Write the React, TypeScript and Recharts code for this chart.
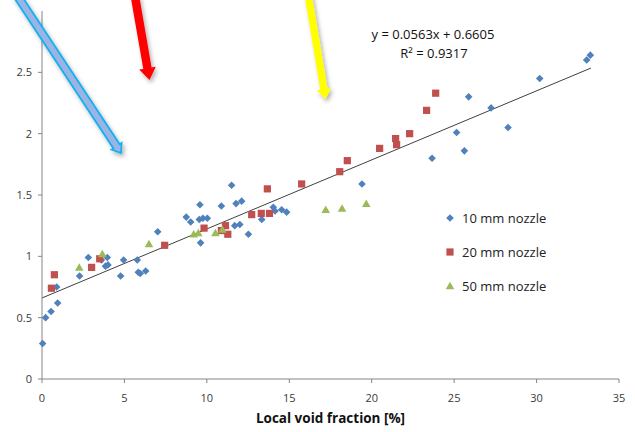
import React from 'react';
import { ScatterChart, Scatter, XAxis, YAxis, ReferenceLine, Legend } from 'recharts';

const xTicks = [0, 5, 10, 15, 20, 25, 30, 35];
const yTicks = [0, 0.5, 1, 1.5, 2, 2.5];

const nozzle10: [number, number][] = [
  [0.04, 0.29], [0.22, 0.5], [0.55, 0.55], [0.89, 0.75], [0.95, 0.62], [2.28, 0.84], [2.81, 0.99],
  [3.6, 0.97], [3.96, 0.99], [3.85, 0.92], [4.0, 0.93], [4.77, 0.84], [4.95, 0.97], [5.78, 0.97],
  [5.84, 0.87], [5.96, 0.86], [6.29, 0.88], [7.02, 1.2], [8.75, 1.32], [9.02, 1.28], [9.54, 1.3],
  [9.58, 1.42], [9.62, 1.11], [9.76, 1.31], [10.03, 1.31], [10.88, 1.41], [11.5, 1.58], [11.69, 1.25],
  [11.77, 1.43], [12.0, 1.26], [12.11, 1.45], [12.52, 1.18], [13.33, 1.3], [14.03, 1.4], [14.14, 1.37],
  [14.54, 1.38], [14.84, 1.36], [19.41, 1.59], [23.66, 1.8], [25.15, 2.01], [25.62, 1.86], [25.88, 2.3],
  [27.24, 2.21], [28.27, 2.05], [30.19, 2.45], [33.04, 2.6], [33.26, 2.64],
];

const nozzle20: [number, number][] = [
  [0.57, 0.74], [0.75, 0.85], [3.01, 0.91], [3.5, 0.98], [7.44, 1.09], [9.83, 1.23], [10.88, 1.21],
  [11.13, 1.25], [11.27, 1.18], [12.72, 1.34], [13.3, 1.35], [13.67, 1.55], [13.8, 1.35], [15.75, 1.59],
  [18.06, 1.69], [18.52, 1.78], [20.48, 1.88], [21.45, 1.96], [21.51, 1.91], [22.3, 2.0], [23.33, 2.19],
  [23.88, 2.33],
];

const nozzle50: [number, number][] = [
  [2.26, 0.91], [3.66, 1.02], [6.49, 1.1], [9.2, 1.18], [9.48, 1.19], [10.52, 1.19], [10.94, 1.22],
  [17.21, 1.38], [18.2, 1.39], [19.67, 1.43],
];

const trendStart = { x: 0, y: 0.6605 };
const trendEnd = { x: 33.3, y: 2.535 };

const seriesNames = ['10 mm nozzle', '20 mm nozzle', '50 mm nozzle'];
const seriesColors = ['#4F81BD', '#C0504D', '#9BBB59'];

const toPts = (arr: [number, number][]) => arr.map(([x, y]) => ({ x, y }));

const FONT = '"Open Sans", "Liberation Sans", sans-serif';

const Diamond = (p: any) => {
  const { cx, cy, fill } = p;
  const r = 3.8;
  return <polygon points={`${cx},${cy - r} ${cx + r},${cy} ${cx},${cy + r} ${cx - r},${cy}`} fill={fill} />;
};
const Square = (p: any) => {
  const { cx, cy, fill } = p;
  const r = 3.6;
  return <rect x={cx - r} y={cy - r} width={2 * r} height={2 * r} fill={fill} />;
};
const Triangle = (p: any) => {
  const { cx, cy, fill } = p;
  return <polygon points={`${cx},${cy - 4.2} ${cx + 4.3},${cy + 3.3} ${cx - 4.3},${cy + 3.3}`} fill={fill} />;
};

const markerFor = (i: number, color: string) => {
  const props = { cx: 6, cy: 8, fill: color };
  if (i === 0) return <Diamond {...props} />;
  if (i === 1) return <Square {...props} />;
  return <Triangle {...props} />;
};

const LegendContent = () => (
  <div style={{ fontFamily: FONT, fontSize: 13, color: '#222' }}>
    {seriesNames.map((n, i) => (
      <div key={n} style={{ display: 'flex', alignItems: 'center', height: 34 }}>
        <svg width={14} height={16} style={{ marginRight: 4 }}>
          {markerFor(i, seriesColors[i])}
        </svg>
        <span>{n}</span>
      </div>
    ))}
  </div>
);

function arrowPoints(tx: number, ty: number, hx: number, hy: number, w: number, hw: number, hl: number) {
  const dx = hx - tx;
  const dy = hy - ty;
  const len = Math.sqrt(dx * dx + dy * dy);
  const ux = dx / len;
  const uy = dy / len;
  const nx = -uy;
  const ny = ux;
  const bx = hx - ux * hl;
  const by = hy - uy * hl;
  const pts = [
    [tx + nx * w / 2, ty + ny * w / 2],
    [bx + nx * w / 2, by + ny * w / 2],
    [bx + nx * hw / 2, by + ny * hw / 2],
    [hx, hy],
    [bx - nx * hw / 2, by - ny * hw / 2],
    [bx - nx * w / 2, by - ny * w / 2],
    [tx - nx * w / 2, ty - ny * w / 2],
  ];
  return pts.map((p) => `${p[0].toFixed(1)},${p[1].toFixed(1)}`).join(' ');
}

const Overlay = () => (
  <svg width={635} height={432} style={{ position: 'absolute', left: 0, top: 0, pointerEvents: 'none' }}>
    <defs>
      <filter id="sh" x="-50%" y="-50%" width="200%" height="200%">
        <feDropShadow dx="2" dy="3" stdDeviation="2" floodColor="#000" floodOpacity="0.3" />
      </filter>
    </defs>
    <text x={433} y={39} textAnchor="middle" fontFamily={FONT} fontSize={13} fill="#111">
      y = 0.0563x + 0.6605
    </text>
    <text x={434} y={58} textAnchor="middle" fontFamily={FONT} fontSize={13} fill="#111">
      R² = 0.9317
    </text>
    <polygon
      points={arrowPoints(16.7, -5, 121, 153, 7.5, 12, 8)}
      fill="#9BB4E6"
      stroke="#12B0EE"
      strokeWidth={1.8}
      strokeLinejoin="miter"
      filter="url(#sh)"
    />
    <polygon points={arrowPoints(134.7, -5, 149.5, 80, 8.5, 17, 12)} fill="#FF0000" filter="url(#sh)" />
    <polygon points={arrowPoints(308.2, -5, 325.5, 99, 7.3, 14.5, 10)} fill="#FFFF00" filter="url(#sh)" />
  </svg>
);

export default function App() {
  const axisColor = '#868686';
  const tickStyle = { fontFamily: FONT, fontSize: 11, fill: '#3a3a3a' };
  return (
    <div style={{ position: 'absolute', left: 0, top: 0, width: 635, height: 432, background: '#fff' }}>
      <ScatterChart width={635} height={432} margin={{ top: 11, right: 16, bottom: 0, left: 0 }}>
        <XAxis
          xAxisId={0}
          dataKey="x"
          type="number"
          domain={[0, 35]}
          ticks={xTicks}
          interval={0}
          height={53}
          tickSize={4}
          tickMargin={11}
          stroke={axisColor}
          tick={tickStyle}
          label={{
            value: 'Local void fraction [%]',
            position: 'insideBottom',
            offset: 9,
            style: { fontFamily: FONT, fontSize: 13.5, fontWeight: 'bold', fill: '#111' },
          }}
        />
        <XAxis xAxisId="top" orientation="top" type="number" domain={[0, 35]} height={0} tick={false} tickLine={false} stroke={axisColor} />
        <YAxis
          yAxisId={0}
          dataKey="y"
          type="number"
          domain={[0, 3]}
          ticks={yTicks}
          interval={0}
          width={42}
          tickSize={4}
          tickMargin={6}
          stroke={axisColor}
          tick={tickStyle}
        />
        <YAxis yAxisId="right" orientation="right" type="number" domain={[0, 3]} width={0} tick={false} tickLine={false} stroke={axisColor} />
        <Scatter name={seriesNames[0]} data={toPts(nozzle10)} fill={seriesColors[0]} shape={Diamond} isAnimationActive={false} />
        <Scatter name={seriesNames[1]} data={toPts(nozzle20)} fill={seriesColors[1]} shape={Square} isAnimationActive={false} />
        <Scatter name={seriesNames[2]} data={toPts(nozzle50)} fill={seriesColors[2]} shape={Triangle} isAnimationActive={false} />
        <ReferenceLine
          segment={[trendStart, trendEnd]}
          stroke="#404040"
          strokeWidth={1}
          ifOverflow="visible"
        />
        <Legend
          layout="vertical"
          align="center"
          verticalAlign="middle"
          content={LegendContent}
          wrapperStyle={{ position: 'absolute', left: 444, top: 201, width: 130, height: 102 }}
        />
      </ScatterChart>
      <Overlay />
    </div>
  );
}
